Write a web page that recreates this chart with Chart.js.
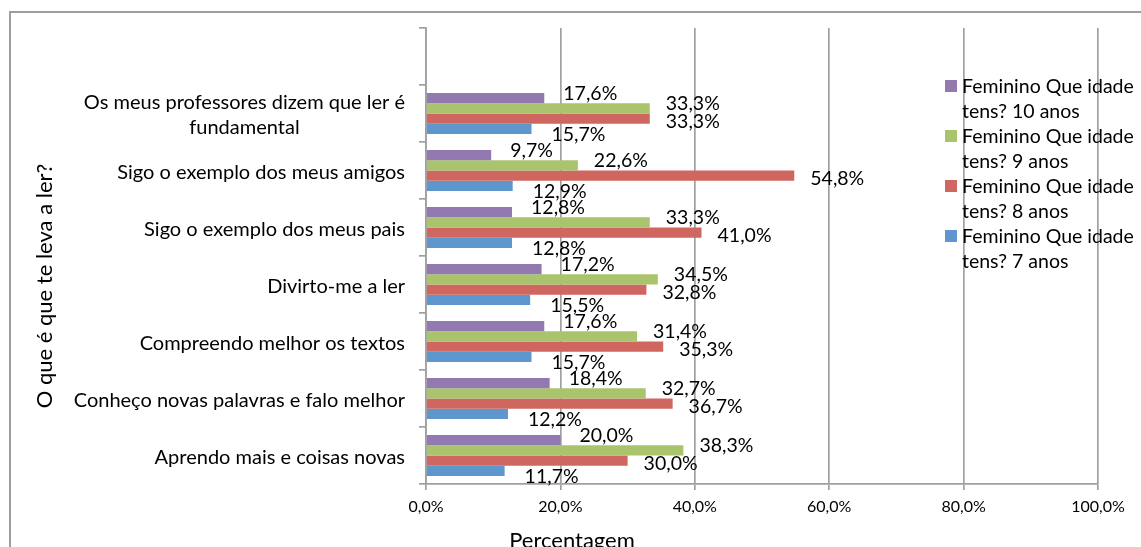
<!DOCTYPE html>
<html>
<head>
<meta charset="utf-8">
<script src="https://cdn.jsdelivr.net/npm/chart.js@4.4.0/dist/chart.umd.min.js"></script>
<style>
  html, body { margin: 0; padding: 0; background: #ffffff; }
  canvas { display: block; }
</style>
</head>
<body>
<canvas id="chart" width="1141" height="547"></canvas>
<script>
// Categories, top to bottom (the first slot is left blank)
const categories = [
  "",
  ["Os meus professores dizem que ler é", "fundamental"],
  "Sigo o exemplo dos meus amigos",
  "Sigo o exemplo dos meus pais",
  "Divirto-me a ler",
  "Compreendo melhor os textos",
  "Conheço novas palavras e falo melhor",
  "Aprendo mais e coisas novas"
];

// Percentages per age group
const anos10 = [null, 17.6, 9.7, 12.8, 17.2, 17.6, 18.4, 20.0];
const anos9  = [null, 33.3, 22.6, 33.3, 34.5, 31.4, 32.7, 38.3];
const anos8  = [null, 33.3, 54.8, 41.0, 32.8, 35.3, 36.7, 30.0];
const anos7  = [null, 15.7, 12.9, 12.8, 15.5, 15.7, 12.2, 11.7];

const seriesNames = [
  "Feminino Que idade tens? 10 anos",
  "Feminino Que idade tens? 9 anos",
  "Feminino Que idade tens? 8 anos",
  "Feminino Que idade tens? 7 anos"
];

const xTickValues = [0, 20, 40, 60, 80, 100];

const xTitle = "Percentagem";
const yTitle = "O que é que te leva a ler?";

// Styling
const FONT = "Lato";
const colors = ["#9279B0", "#A9C46C", "#CF665F", "#5D97CD"];
const gridColor = "#A0A0A0";
// nudges for the value labels, per series
const labelNudge = [
  { dx: 19, dy: -4 },
  { dx: 16, dy: -5 },
  { dx: 16, dy: 3 },
  { dx: 20, dy: 6 }
];

const fmtPct = v => v.toFixed(1).replace(".", ",") + "%";

const seriesValues = [anos10, anos9, anos8, anos7];

const datasets = seriesValues.map((vals, i) => ({
  label: seriesNames[i],
  data: vals,
  backgroundColor: colors[i],
  borderWidth: 0,
  barPercentage: 1.0,
  categoryPercentage: 0.72
}));

// Frame around the whole chart
const framePlugin = {
  id: "frame",
  beforeDraw(chart) {
    const ctx = chart.ctx;
    ctx.save();
    ctx.fillStyle = "#ffffff";
    ctx.fillRect(0, 0, chart.width, chart.height);
    ctx.strokeStyle = "#9E9E9E";
    ctx.lineWidth = 2;
    ctx.strokeRect(10, 12, chart.width + 20, chart.height + 20);
    ctx.restore();
  }
};

// Category names, right-aligned block with centred lines
const categoryLabelPlugin = {
  id: "categoryLabels",
  afterDraw(chart) {
    const ctx = chart.ctx;
    const yScale = chart.scales.y;
    ctx.save();
    ctx.font = `20px ${FONT}`;
    ctx.fillStyle = "#000000";
    ctx.textBaseline = "middle";
    ctx.textAlign = "center";
    const right = yScale.right - 21;
    const lineH = 25;
    categories.forEach((lab, i) => {
      const lines = Array.isArray(lab) ? lab : [lab];
      if (!lines.join("")) return;
      const y = yScale.getPixelForValue(i) + 2;
      const w = Math.max(...lines.map(l => ctx.measureText(l).width));
      const cx = right - w / 2;
      const y0 = y - (lines.length - 1) * lineH / 2;
      lines.forEach((l, k) => ctx.fillText(l, cx, y0 + k * lineH));
    });
    ctx.restore();
  }
};

// Value labels beside each bar
const valueLabelPlugin = {
  id: "valueLabels",
  afterDatasetsDraw(chart) {
    const ctx = chart.ctx;
    ctx.save();
    ctx.font = `19.5px ${FONT}`;
    ctx.fillStyle = "#000000";
    ctx.textBaseline = "middle";
    ctx.textAlign = "left";
    chart.data.datasets.forEach((ds, di) => {
      const meta = chart.getDatasetMeta(di);
      const n = labelNudge[di];
      meta.data.forEach((bar, i) => {
        const v = ds.data[i];
        if (v == null) return;
        ctx.fillText(fmtPct(v), bar.x + n.dx, bar.y + n.dy);
      });
    });
    ctx.restore();
  }
};

// Axis titles
const axisTitlePlugin = {
  id: "axisTitles",
  afterDraw(chart) {
    const ctx = chart.ctx;
    ctx.save();
    ctx.fillStyle = "#000000";
    ctx.font = `22px ${FONT}`;
    ctx.textAlign = "center";
    ctx.textBaseline = "middle";
    ctx.fillText(xTitle, 572, 541);
    ctx.translate(45, 286);
    ctx.rotate(-Math.PI / 2);
    ctx.fillText(yTitle, 0, 0);
    ctx.restore();
  }
};

// Legend with wrapped entries
const legendPlugin = {
  id: "wrappedLegend",
  afterDraw(chart) {
    const ctx = chart.ctx;
    ctx.save();
    ctx.font = `19.5px ${FONT}`;
    ctx.textBaseline = "middle";
    ctx.textAlign = "left";
    const boxX = 945, textX = 962, firstY = 87, lineH = 24.5, step = 50, maxW = 190;
    chart.data.datasets.forEach((ds, i) => {
      const words = ds.label.split(" ");
      const lines = [];
      let cur = "";
      words.forEach(w => {
        const t = cur ? cur + " " + w : w;
        if (ctx.measureText(t).width > maxW && cur) { lines.push(cur); cur = w; }
        else cur = t;
      });
      if (cur) lines.push(cur);
      const y = firstY + i * step;
      ctx.fillStyle = ds.backgroundColor;
      ctx.fillRect(boxX, y - 7, 12, 12);
      ctx.fillStyle = "#000000";
      lines.forEach((l, k) => ctx.fillText(l, textX, y + k * lineH));
    });
    ctx.restore();
  }
};

new Chart(document.getElementById("chart"), {
  type: "bar",
  data: { labels: categories, datasets },
  options: {
    indexAxis: "y",
    responsive: false,
    animation: false,
    layout: { padding: { top: 28, right: 43, left: 0, bottom: 0 } },
    plugins: {
      legend: { display: false },
      tooltip: { enabled: false }
    },
    scales: {
      x: {
        min: 0,
        max: 100,
        afterBuildTicks(scale) {
          scale.ticks = xTickValues.map(v => ({ value: v }));
        },
        afterFit(scale) { scale.height = 63; },
        ticks: {
          callback: v => fmtPct(v),
          font: { family: FONT, size: 16 },
          color: "#000000",
          padding: 7,
          maxRotation: 0
        },
        grid: {
          color: gridColor,
          lineWidth: 1.7,
          tickLength: 6,
          tickColor: gridColor
        },
        border: { display: true, color: gridColor, width: 1.7 }
      },
      y: {
        afterFit(scale) { scale.width = 426; },
        ticks: { display: false },
        grid: {
          drawOnChartArea: false,
          drawTicks: true,
          tickLength: 7,
          color: gridColor,
          tickColor: gridColor,
          lineWidth: 1.7
        },
        border: { display: true, color: gridColor, width: 1.7 }
      }
    }
  },
  plugins: [framePlugin, categoryLabelPlugin, valueLabelPlugin, axisTitlePlugin, legendPlugin]
});
</script>
</body>
</html>
